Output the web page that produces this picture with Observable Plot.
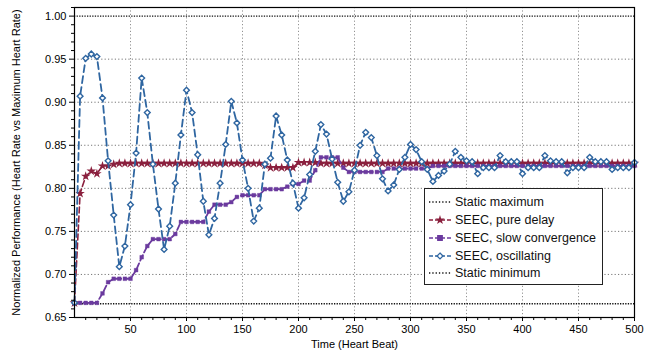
<!DOCTYPE html>
<html><head><meta charset="utf-8">
<script src="https://cdn.jsdelivr.net/npm/d3@7"></script>
<script src="https://cdn.jsdelivr.net/npm/@observablehq/plot@0.6"></script>
<style>
body{margin:0;background:#fff;font-family:"Liberation Sans",Arial,sans-serif;}
#wrap{position:relative;width:656px;height:354px;}
#legend{position:absolute;left:424px;top:188px;width:179px;height:97px;border:1.3px solid #222;background:#fff;box-sizing:border-box;}
</style></head><body><div id="wrap"><div id="legend"></div></div>
<script>
const time = [0,5,10,15,20,25,30,35,40,45,50,55,60,65,70,75,80,85,90,95,100,105,110,115,120,125,130,135,140,145,150,155,160,165,170,175,180,185,190,195,200,205,210,215,220,225,230,235,240,245,250,255,260,265,270,275,280,285,290,295,300,305,310,315,320,325,330,335,340,345,350,355,360,365,370,375,380,385,390,395,400,405,410,415,420,425,430,435,440,445,450,455,460,465,470,475,480,485,490,495,500];

const pureDelay = [0.667,0.794,0.814,0.820,0.817,0.826,0.826,0.828,0.829,0.829,0.829,0.829,0.829,0.829,0.829,0.829,0.829,0.829,0.829,0.829,0.829,0.829,0.829,0.829,0.829,0.829,0.829,0.829,0.829,0.829,0.829,0.829,0.829,0.829,0.827,0.824,0.824,0.824,0.824,0.824,0.830,0.830,0.830,0.830,0.829,0.829,0.829,0.829,0.829,0.829,0.829,0.829,0.829,0.829,0.829,0.829,0.829,0.829,0.829,0.829,0.829,0.829,0.829,0.829,0.829,0.829,0.829,0.829,0.829,0.829,0.829,0.829,0.829,0.829,0.829,0.829,0.829,0.829,0.829,0.829,0.829,0.829,0.829,0.829,0.829,0.829,0.829,0.829,0.829,0.829,0.829,0.829,0.829,0.829,0.829,0.829,0.829,0.829,0.829,0.829,0.829];

const slowConvergence = [0.667,0.667,0.667,0.667,0.667,0.678,0.691,0.695,0.695,0.695,0.695,0.705,0.720,0.733,0.741,0.741,0.741,0.741,0.747,0.761,0.761,0.761,0.761,0.761,0.773,0.781,0.781,0.781,0.784,0.790,0.792,0.792,0.792,0.792,0.799,0.799,0.799,0.799,0.802,0.805,0.805,0.809,0.809,0.821,0.836,0.836,0.836,0.836,0.824,0.819,0.819,0.819,0.819,0.819,0.819,0.819,0.823,0.823,0.823,0.823,0.823,0.823,0.823,0.823,0.826,0.826,0.826,0.826,0.826,0.826,0.826,0.826,0.826,0.826,0.826,0.826,0.826,0.826,0.826,0.826,0.826,0.826,0.826,0.826,0.826,0.826,0.826,0.826,0.826,0.826,0.826,0.826,0.826,0.826,0.826,0.826,0.826,0.826,0.826,0.826,0.826];

const oscillating = [0.667,0.907,0.951,0.956,0.953,0.905,0.832,0.769,0.709,0.733,0.781,0.841,0.928,0.888,0.828,0.776,0.729,0.756,0.806,0.862,0.914,0.888,0.839,0.785,0.746,0.765,0.806,0.851,0.901,0.876,0.833,0.800,0.762,0.777,0.828,0.835,0.884,0.862,0.833,0.806,0.777,0.789,0.816,0.843,0.874,0.863,0.834,0.807,0.785,0.796,0.821,0.850,0.865,0.859,0.838,0.811,0.797,0.804,0.822,0.836,0.851,0.845,0.831,0.822,0.808,0.815,0.820,0.828,0.843,0.836,0.832,0.831,0.817,0.824,0.824,0.824,0.838,0.831,0.831,0.831,0.817,0.824,0.824,0.824,0.838,0.832,0.831,0.831,0.818,0.824,0.824,0.824,0.836,0.831,0.831,0.831,0.822,0.824,0.824,0.824,0.830];

const staticMaximum = [1.0];
const staticMinimum = [0.666];

const xTicks = [50,100,150,200,250,300,350,400,450,500];
const xMinorTicks = [10,20,30,40,60,70,80,90,110,120,130,140,160,170,180,190,210,220,230,240,260,270,280,290,310,320,330,340,360,370,380,390,410,420,430,440,460,470,480,490];
const xGrid = [50,100,150,200,250,300,350,400,450];
const yTicks = [0.65,0.70,0.75,0.80,0.85,0.90,0.95,1.00];
const yMinorTicks = [0.66,0.67,0.68,0.69,0.71,0.72,0.73,0.74,0.76,0.77,0.78,0.79,0.81,0.82,0.83,0.84,0.86,0.87,0.88,0.89,0.91,0.92,0.93,0.94,0.96,0.97,0.98,0.99,1.01];
const yGrid = [0.70,0.75,0.80,0.85,0.90,0.95];

const seriesNames = ["Static maximum","SEEC, pure delay","SEEC, slow convergence","SEEC, oscillating","Static minimum"];
const colors = {max:"#111", delay:"#8a1f3d", slow:"#6b3a9e", osc:"#2f66a1", min:"#111"};

const rows = arr => time.map((t,i)=>({t, v: arr[i]}));
const delayRows = rows(pureDelay), slowRows = rows(slowConvergence), oscRows = rows(oscillating);

const chart = Plot.plot({
  width: 656, height: 354,
  marginLeft: 74, marginRight: 22, marginTop: 7, marginBottom: 37,
  style: {fontFamily: '"Liberation Sans", Arial, sans-serif', fontSize: "11px", color: "#000", background: "transparent"},
  x: {domain: [0, 500]},
  y: {domain: [0.65, 1.01]},
  marks: [
    Plot.gridX(xGrid, {stroke: "#777", strokeOpacity: 0.8, strokeDasharray: "1.2,2.2"}),
    Plot.gridY(yGrid, {stroke: "#555", strokeOpacity: 0.8, strokeDasharray: "1.2,2.2"}),
    Plot.ruleY(staticMaximum, {stroke: colors.max, strokeWidth: 1.4, strokeDasharray: "1.3,1.3"}),
    Plot.ruleY(staticMinimum, {stroke: colors.min, strokeWidth: 1.4, strokeDasharray: "1.3,1.3"}),
    Plot.line(delayRows, {x: "t", y: "v", stroke: colors.delay, strokeWidth: 1.6, strokeDasharray: "6,3"}),
    Plot.dot(delayRows, {x: "t", y: "v", symbol: "star", fill: colors.delay, stroke: "none", r: 3.0}),
    Plot.line(slowRows, {x: "t", y: "v", stroke: colors.slow, strokeWidth: 1.8, strokeDasharray: "6,3"}),
    Plot.dot(slowRows, {x: "t", y: "v", symbol: "square", fill: colors.slow, stroke: colors.slow, strokeWidth: 0.4, r: 2.1}),
    Plot.line(oscRows, {x: "t", y: "v", stroke: colors.osc, strokeWidth: 1.8, strokeDasharray: "7,4"}),
    Plot.dot(oscRows, {x: "t", y: "v", symbol: "diamond2", fill: "white", stroke: colors.osc, strokeWidth: 1.4, r: 2.6}),
    Plot.frame({stroke: "#000", strokeWidth: 1.2}),
    Plot.axisX({ticks: xMinorTicks, tickSize: 3, tickFormat: () => "", label: null}),
    Plot.axisX({ticks: xTicks, tickSize: 4, tickPadding: 4, tickFormat: d => String(d), label: "Time (Heart Beat)", labelAnchor: "center", labelOffset: 30, labelArrow: "none"}),
    Plot.axisY({ticks: yMinorTicks, tickSize: 3, tickFormat: () => "", label: null}),
    Plot.axisY({ticks: yTicks, tickSize: 5, tickPadding: 3, tickFormat: d3.format(".2f"), label: "Normalized Performance (Heart Rate vs Maximum Heart Rate)", labelAnchor: "center", labelOffset: 62, labelArrow: "none"})
  ]
});
document.getElementById("wrap").prepend(chart);

// legend
const lg = d3.select("#legend").append("svg").attr("width", 177).attr("height", 95).style("font-family", '"Liberation Sans", Arial, sans-serif');
const rowY = [13, 31, 49, 67, 84];
const keyStyles = [
  {c: colors.max, dash: "1.3,2", sym: null},
  {c: colors.delay, dash: "4,2", sym: d3.symbolStar, fill: colors.delay, size: 28},
  {c: colors.slow, dash: "4,2", sym: d3.symbolSquare, fill: colors.slow, size: 20},
  {c: colors.osc, dash: "4,2", sym: d3.symbolDiamond2, fill: "white", size: 22},
  {c: colors.min, dash: "1.3,2", sym: null}
];
seriesNames.forEach((name, i) => {
  const k = keyStyles[i], y = rowY[i];
  lg.append("line").attr("x1", 4).attr("x2", 26).attr("y1", y).attr("y2", y)
    .attr("stroke", k.c).attr("stroke-width", 1.5).attr("stroke-dasharray", k.dash);
  if (k.sym) lg.append("path").attr("d", d3.symbol(k.sym, k.size)()).attr("transform", `translate(15,${y})`)
    .attr("fill", k.fill).attr("stroke", k.sym === d3.symbolStar ? "none" : k.c).attr("stroke-width", 1.3);
  lg.append("text").attr("x", 30).attr("y", y).attr("dy", "0.35em").attr("font-size", 12.5).attr("fill", "#111").text(name);
});
</script>
</body></html>
